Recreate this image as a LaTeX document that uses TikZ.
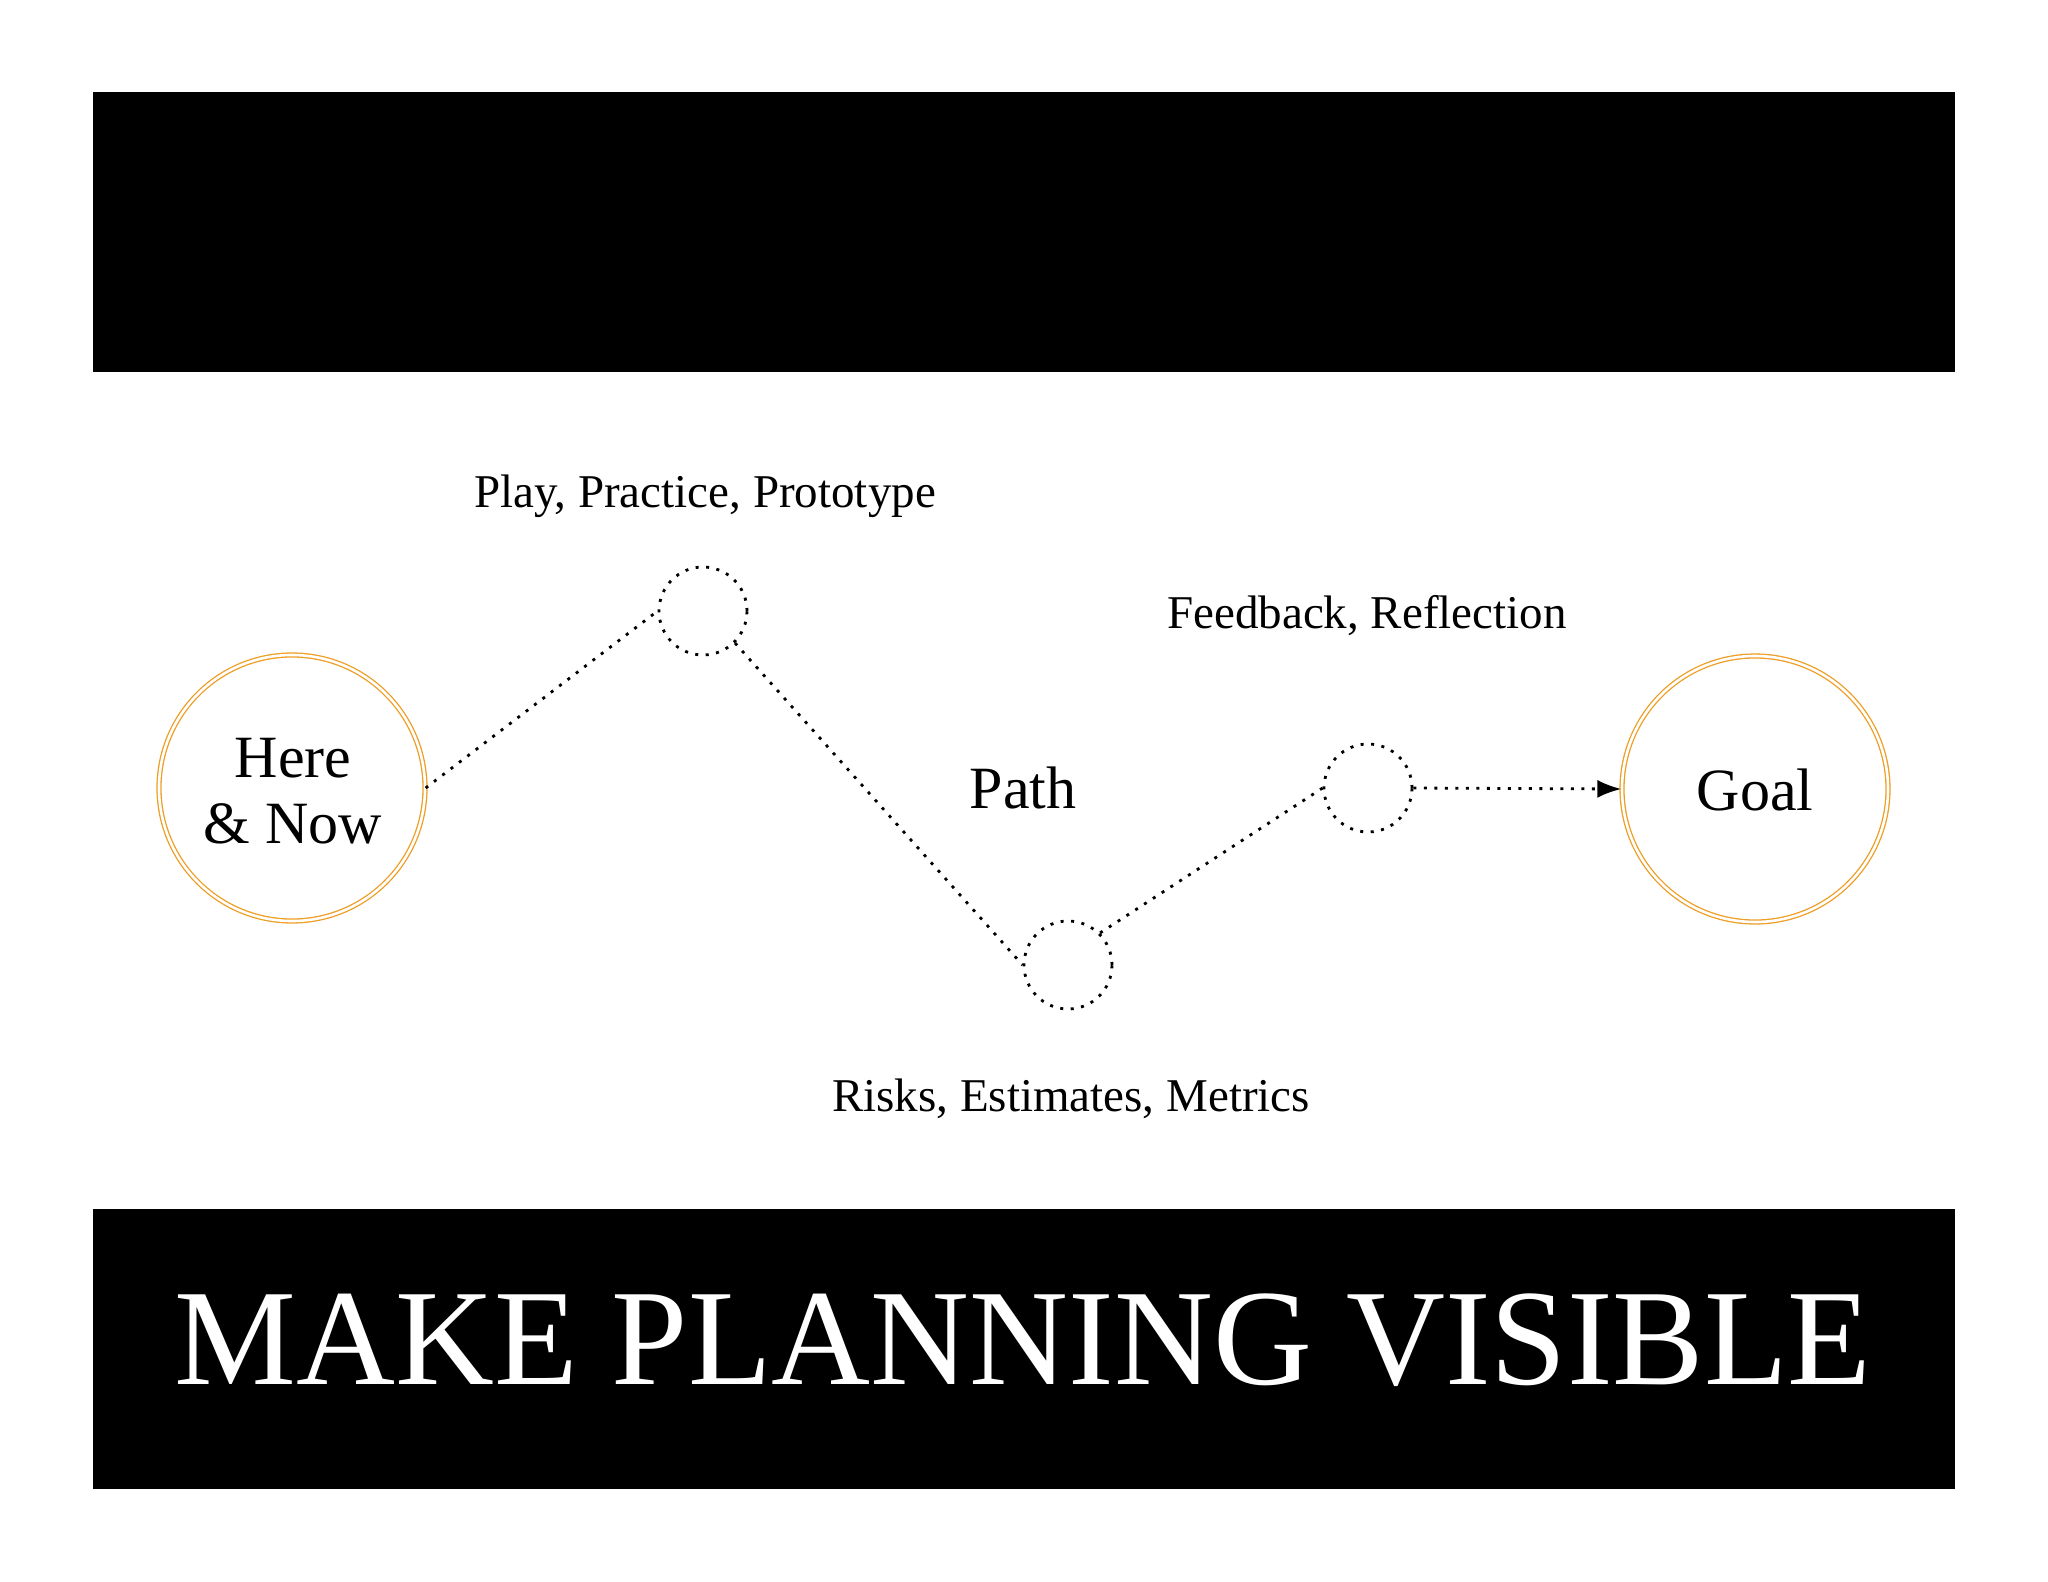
\documentclass[tikz,border=0pt]{standalone}
\usepackage{fontspec}
\setmainfont{Liberation Serif}
\usetikzlibrary{arrows.meta}
\definecolor{ring}{HTML}{EE9E24}
\tikzset{
  bigcirc/.style={circle, draw=ring, line width=1.3pt, double=white, double distance=2.6pt, minimum size=266pt, inner sep=0pt},
  smallcirc/.style={circle, draw=black, line width=2.8pt, dash pattern=on 3pt off 7.5pt, minimum size=88pt, inner sep=0pt},
  dotline/.style={line width=2.8pt, dash pattern=on 3pt off 7.5pt},
  lbl/.style={font=\fontsize{47}{56}\selectfont, anchor=base, inner sep=0pt},
  biglbl/.style={font=\fontsize{60}{66}\selectfont, anchor=base, inner sep=0pt},
  band/.style={fill=black, draw=none, minimum width=1862pt, minimum height=280pt, inner sep=0pt}
}
\begin{document}
\begin{tikzpicture}[x=1pt,y=-1pt]
\useasboundingbox[fill=white] (0,0) rectangle (2048,1582);
% bands
\node[band] (topband) at (1024,232) {};
\node[band] (botband) at (1024,1349) {};
\node[anchor=base, inner sep=0pt, text=white, font=\fontsize{137}{150}\selectfont] (title) at (1023,1384) {MAKE PLANNING VISIBLE};
% main circles
\node[bigcirc] (here) at (292,788) {};
\node[biglbl] (heretxt1) at (293,777) {Here};
\node[biglbl] (heretxt2) at (293,843) {\& Now};
\node[bigcirc] (goal) at (1755,789) {};
\node[biglbl] (goaltxt) at (1755,810) {Goal};
% small circles
\node[smallcirc] (c1) at (703,611) {};
\node[smallcirc] (c2) at (1068,965) {};
\node[smallcirc] (c3) at (1368,788) {};
% labels
\node[lbl] (play) at (705,507) {Play, Practice, Prototype};
\node[lbl] (feed) at (1367,628) {Feedback, Reflection};
\node[lbl] (risk) at (1071,1111) {Risks, Estimates, Metrics};
\node[biglbl] (path) at (1023,808) {Path};
% connectors
\draw[dotline] (here.east) -- (c1.west);
\draw[dotline] (c1.south east) -- (c2.west);
\draw[dotline] (c2.north east) -- (c3.west);
\draw[dotline, -{Latex[length=24pt,width=18pt]}] (c3.east) -- (goal.west);
\end{tikzpicture}
\end{document}
